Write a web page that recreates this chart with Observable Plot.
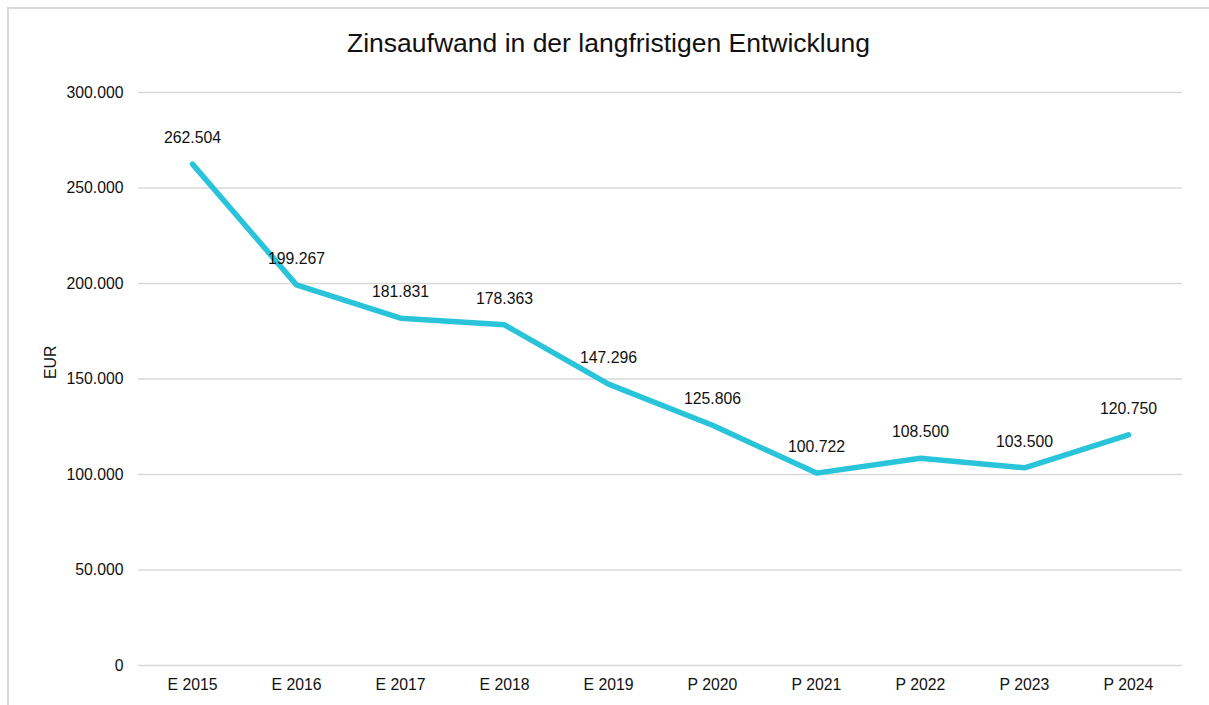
<!DOCTYPE html>
<html><head><meta charset="utf-8">
<script src="https://cdn.jsdelivr.net/npm/d3@7"></script>
<script src="https://cdn.jsdelivr.net/npm/@observablehq/plot@0.6"></script>
<style>
body{margin:0;background:#fff;overflow:hidden;font-family:"Liberation Sans",Arial,sans-serif;}
#frame{position:absolute;left:7px;top:7px;width:1400px;height:900px;border:2px solid #d9d9d9;box-sizing:border-box;}
#title{position:absolute;left:4px;top:28px;width:1209px;text-align:center;font-size:26.5px;color:#111;}
#chart{position:absolute;left:0;top:0;}
</style></head>
<body>
<div id="frame"></div>
<div id="chart"></div>
<div id="title">Zinsaufwand in der langfristigen Entwicklung</div>
<script>
const years = ["E 2015","E 2016","E 2017","E 2018","E 2019","P 2020","P 2021","P 2022","P 2023","P 2024"];
const values = [262504,199267,181831,178363,147296,125806,100722,108500,103500,120750];
const yTicks = [0,50000,100000,150000,200000,250000,300000];

const de = d3.formatLocale({decimal:",",thousands:".",grouping:[3],currency:["","€"]});
const fmt = de.format(",d");
const data = years.map((y,i)=>({year:y,value:values[i]}));

const chart = Plot.plot({
  width:1209, height:705,
  marginLeft:138, marginRight:27, marginTop:92, marginBottom:40,
  style:{fontFamily:"'Liberation Sans', Arial, sans-serif", fontSize:"15.8px", background:"transparent", color:"#111"},
  x:{type:"point", domain:years, padding:0.5, label:null},
  y:{domain:[0,300000], label:null},
  marks:[
    Plot.ruleY(yTicks,{stroke:"#d9d9d9", strokeWidth:1.5}),
    Plot.axisY({ticks:yTicks, tickFormat:fmt, tickSize:0, tickPadding:15, fontSize:15.8, label:null}),
    Plot.axisX({tickSize:0, tickPadding:13, fontSize:15.8, label:null}),
    Plot.text(["EUR"],{frameAnchor:"left", dx:-88, rotate:-90, fontSize:15.8, fill:"#111"}),
    Plot.line(data,{x:"year", y:"value", stroke:"#29C4DA", strokeWidth:5.5, strokeLinejoin:"round", strokeLinecap:"round"}),
    Plot.text(data,{x:"year", y:"value", text:d=>fmt(d.value), dy:-26, fontSize:15.8, fill:"#111"})
  ]
});
document.getElementById("chart").appendChild(chart);
</script>
</body></html>
